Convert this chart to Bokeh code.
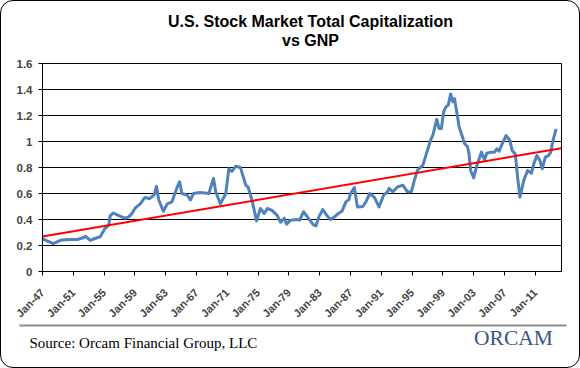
import math
from bokeh.plotting import figure
from bokeh.layouts import column, row
from bokeh.models import Label, BoxAnnotation, FixedTicker, NumeralTickFormatter, Range1d
from bokeh.embed import file_html
from bokeh.resources import INLINE

# ---------------- data ----------------
years = [1947.0, 1947.6, 1948.4, 1949.3, 1950.0, 1950.6, 1951.5, 1952.3, 1952.6, 1953.2,
         1953.8, 1954.5, 1955.1, 1955.6, 1955.8, 1956.2, 1956.9, 1957.7, 1958.2, 1958.6,
         1959.0, 1959.7, 1960.3, 1960.9, 1961.5, 1961.8, 1962.1, 1962.7, 1963.2, 1963.8,
         1964.5, 1964.8, 1965.1, 1965.8, 1966.2, 1966.6, 1967.5, 1968.6, 1969.2, 1969.5,
         1970.1, 1970.8, 1971.2, 1971.6, 1972.1, 1972.7, 1973.4, 1973.7, 1974.2, 1974.8,
         1975.3, 1975.8, 1976.2, 1976.8, 1977.5, 1977.9, 1978.4, 1978.7, 1979.2, 1980.1,
         1980.4, 1980.9, 1981.4, 1982.1, 1982.5, 1982.9, 1983.4, 1983.9, 1984.4, 1984.9,
         1985.5, 1985.9, 1986.4, 1986.8, 1987.0, 1987.5, 1987.9, 1988.6, 1989.0, 1989.5,
         1990.1, 1990.7, 1991.3, 1991.8, 1992.0, 1992.5, 1993.1, 1993.8, 1994.4, 1994.9,
         1995.3, 1995.7, 1996.4, 1996.8, 1997.4, 1997.7, 1998.2, 1998.5, 1998.8, 1999.1,
         1999.4, 1999.7, 2000.0, 2000.3, 2000.5, 2000.9, 2001.1, 2001.6, 2001.8, 2002.2,
         2002.4, 2002.6, 2003.0, 2003.4, 2004.0, 2004.4, 2004.7, 2005.3, 2005.7, 2006.0,
         2006.3, 2006.8, 2007.2, 2007.7, 2008.0, 2008.4, 2008.7, 2009.0, 2009.5, 2010.0,
         2010.5, 2010.8, 2011.2, 2011.6, 2011.9, 2012.3, 2012.7, 2013.0, 2013.3, 2013.7]
ratio = [0.254, 0.235, 0.215, 0.240, 0.245, 0.246, 0.246, 0.260, 0.270, 0.240,
         0.254, 0.267, 0.330, 0.356, 0.430, 0.450, 0.430, 0.410, 0.420, 0.445,
         0.485, 0.520, 0.570, 0.560, 0.590, 0.655, 0.550, 0.464, 0.520, 0.535,
         0.650, 0.690, 0.600, 0.587, 0.550, 0.600, 0.608, 0.600, 0.715, 0.613,
         0.520, 0.600, 0.790, 0.770, 0.810, 0.800, 0.664, 0.650, 0.550, 0.390,
         0.485, 0.446, 0.485, 0.470, 0.430, 0.380, 0.410, 0.364, 0.395, 0.400,
         0.395, 0.460, 0.420, 0.364, 0.350, 0.420, 0.477, 0.433, 0.400, 0.420,
         0.450, 0.464, 0.536, 0.554, 0.600, 0.646, 0.497, 0.500, 0.536, 0.600,
         0.570, 0.497, 0.587, 0.613, 0.640, 0.613, 0.650, 0.664, 0.613, 0.613,
         0.703, 0.780, 0.818, 0.895, 1.010, 1.050, 1.170, 1.100, 1.100, 1.230,
         1.267, 1.280, 1.365, 1.305, 1.330, 1.190, 1.113, 1.023, 0.985, 0.960,
         0.900, 0.777, 0.720, 0.815, 0.918, 0.860, 0.910, 0.918, 0.918, 0.944,
         0.926, 0.995, 1.046, 1.008, 0.930, 0.905, 0.726, 0.572, 0.700, 0.777,
         0.756, 0.828, 0.892, 0.854, 0.790, 0.880, 0.892, 0.918, 1.008, 1.097]
trend_years = [1947.0, 2014.4]
trend_values = [0.270, 0.948]
x_tick_years = [1947, 1951, 1955, 1959, 1963, 1967, 1971, 1975, 1979, 1983,
                1987, 1991, 1995, 1999, 2003, 2007, 2011]
x_tick_labels = ["Jan-47", "Jan-51", "Jan-55", "Jan-59", "Jan-63", "Jan-67", "Jan-71",
                 "Jan-75", "Jan-79", "Jan-83", "Jan-87", "Jan-91", "Jan-95", "Jan-99",
                 "Jan-03", "Jan-07", "Jan-11"]
y_ticks = [0, 0.2, 0.4, 0.6, 0.8, 1.0, 1.2, 1.4, 1.6]
title_lines = ["U.S. Stock Market Total Capitalization", "vs GNP"]
source_text = "Source: Orcam Financial Group, LLC"
logo_text = "ORCAM"

# ---------------- layout ----------------
CW = 578          # inner width (page x 1..579)
HEAD_H = 52       # page y 1..53
MAIN_H = 274      # page y 53..327 (frame 63..271)
FOOT_H = 49       # page y 318..367 (overlaps main by 9 px)
FOOT_OVERLAP = 9


def blank(h):
    f = figure(width=CW, height=h, output_backend="svg", toolbar_location=None,
               x_range=Range1d(0, CW), y_range=Range1d(0, h),
               x_axis_location=None, y_axis_location=None,
               min_border=0, min_border_left=0, min_border_right=0,
               min_border_top=0, min_border_bottom=0)
    f.grid.visible = False
    f.outline_line_color = None
    f.background_fill_color = None
    f.border_fill_color = None
    return f


# header with the title (y = centre of each line, measured up from the header bottom)
head = blank(HEAD_H)
for txt, mid in zip(title_lines, [32.0, 13.0]):
    head.add_layout(Label(x=309, y=mid, x_units="screen", y_units="screen",
                          text=txt, text_font="Liberation Sans", text_font_style="bold",
                          text_font_size="16px", text_align="center",
                          text_baseline="middle", text_color="black"))

# main chart
p = figure(width=CW, height=MAIN_H, output_backend="svg", toolbar_location=None,
           x_range=Range1d(1947.0, 2014.4), y_range=Range1d(0, 1.6),
           min_border_left=41, min_border_right=18,
           min_border_top=10, min_border_bottom=56)
p.background_fill_color = "white"
p.border_fill_color = None
p.outline_line_color = "black"
p.outline_line_width = 1

p.line(years, ratio, line_color="#4F81BD", line_width=3, line_join="round")
p.line(trend_years, trend_values, line_color="#FF0000", line_width=2)

xa = p.xaxis[0]
xa.ticker = FixedTicker(ticks=x_tick_years)
xa.major_label_overrides = dict(zip(x_tick_years, x_tick_labels))
xa.major_label_orientation = math.pi / 4
xa.major_label_text_font = "Liberation Sans"
xa.major_label_text_font_style = "bold"
xa.major_label_text_font_size = "11px"
xa.major_label_standoff = 15
xa.major_tick_out = 4
xa.major_tick_in = 0
xa.minor_tick_out = 0
xa.minor_tick_in = 0
xa.axis_line_color = "black"
xa.major_tick_line_color = "black"

ya = p.yaxis[0]
ya.ticker = FixedTicker(ticks=y_ticks)
ya.formatter = NumeralTickFormatter(format="0.[0]")
ya.major_label_text_font = "Liberation Sans"
ya.major_label_text_font_style = "bold"
ya.major_label_text_font_size = "11.5px"
ya.major_label_standoff = 6
ya.major_tick_out = 4
ya.major_tick_in = 0
ya.minor_tick_out = 0
ya.minor_tick_in = 0
ya.axis_line_color = "black"
ya.major_tick_line_color = "black"

p.xgrid.visible = False
p.ygrid.ticker = FixedTicker(ticks=y_ticks)
p.ygrid.grid_line_color = "black"
p.ygrid.grid_line_width = 1

# footer: separator, source, logo
foot = blank(FOOT_H)
foot.add_layout(BoxAnnotation(left=18, right=565, top=FOOT_H - 6, bottom=FOOT_H - 8,
                              left_units="screen", right_units="screen",
                              top_units="screen", bottom_units="screen",
                              fill_color="#8c8c8c", fill_alpha=1, line_alpha=0))
foot.add_layout(Label(x=28, y=24.1, x_units="screen", y_units="screen",
                      text=source_text, text_font="Liberation Serif",
                      text_font_size="15px", text_align="left",
                      text_baseline="middle", text_color="black"))
foot.add_layout(Label(x=512, y=29.7, x_units="screen", y_units="screen",
                      text=logo_text, text_font="Liberation Serif",
                      text_font_size="21.5px", text_align="center",
                      text_baseline="middle", text_color="#3a5585"))

page = column(row(head), p,
              row(foot, styles={"margin-top": f"-{FOOT_OVERLAP}px",
                                "position": "relative", "z-index": "2"}),
              spacing=0,
              styles={"border": "1px solid black", "border-radius": "13px",
                      "background-color": "white"})

open("out.html", "w").write(file_html(page, INLINE))
